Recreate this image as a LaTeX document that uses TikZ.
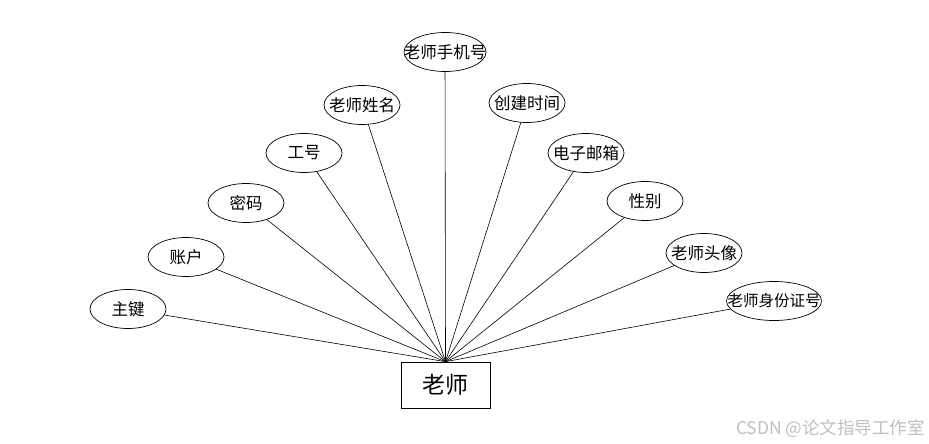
\documentclass[tikz,border=0pt]{standalone}
\usepackage{fontspec}
\newfontfamily\cjk{Noto Sans CJK SC}
\usetikzlibrary{shapes.geometric}
\newcommand{\attrtext}[1]{\makebox[0pt]{#1}}

\begin{document}
\begin{tikzpicture}[
  x=1pt, y=-1pt,
  attr/.style={
    draw, ellipse, inner sep=0pt, line width=0.7pt,
    minimum width=76pt, minimum height=39pt,
    font=\cjk\fontsize{16.5}{18}\selectfont
  },
  entity/.style={
    draw, rectangle, line width=0.7pt,
    minimum width=89pt, minimum height=46pt,
    font=\cjk\fontsize{23}{26}\selectfont
  },
  link/.style={draw, line width=0.6pt}
]
\useasboundingbox (0,0) rectangle (929,444);

\node[entity] (teacher) at (445.5,385) {老师};

\node[attr] (key)   at (128,309) {\attrtext{主键}};
\node[attr] (acct)  at (186,257) {\attrtext{账户}};
\node[attr] (pwd)   at (246,203) {\attrtext{密码}};
\node[attr] (num)   at (304,153) {\attrtext{工号}};
\node[attr] (name)  at (362,105) {\attrtext{老师姓名}};
\node[attr, minimum width=82pt] (phone) at (445,52) {\attrtext{老师手机号}};
\node[attr] (ctime) at (527,103) {\attrtext{创建时间}};
\node[attr] (mail)  at (586,153) {\attrtext{电子邮箱}};
\node[attr] (sex)   at (645,201) {\attrtext{性别}};
\node[attr] (photo) at (704,253) {\attrtext{老师头像}};
\node[attr, minimum width=95pt, font=\cjk\fontsize{15.5}{18}\selectfont] (idno) at (774,301) {\attrtext{老师身份证号}};

% connectors to the entity
\foreach \a in {key,acct,pwd,num,name,phone,ctime,mail,sex,photo,idno}
  \draw[link] (\a) -- (teacher.north);

% watermark
\node[anchor=east, text=black!25, inner sep=0pt,
      font=\cjk\fontsize{17.5}{19}\selectfont] (mark) at (925,429) {CSDN @论文指导工作室};

\end{tikzpicture}
\end{document}
